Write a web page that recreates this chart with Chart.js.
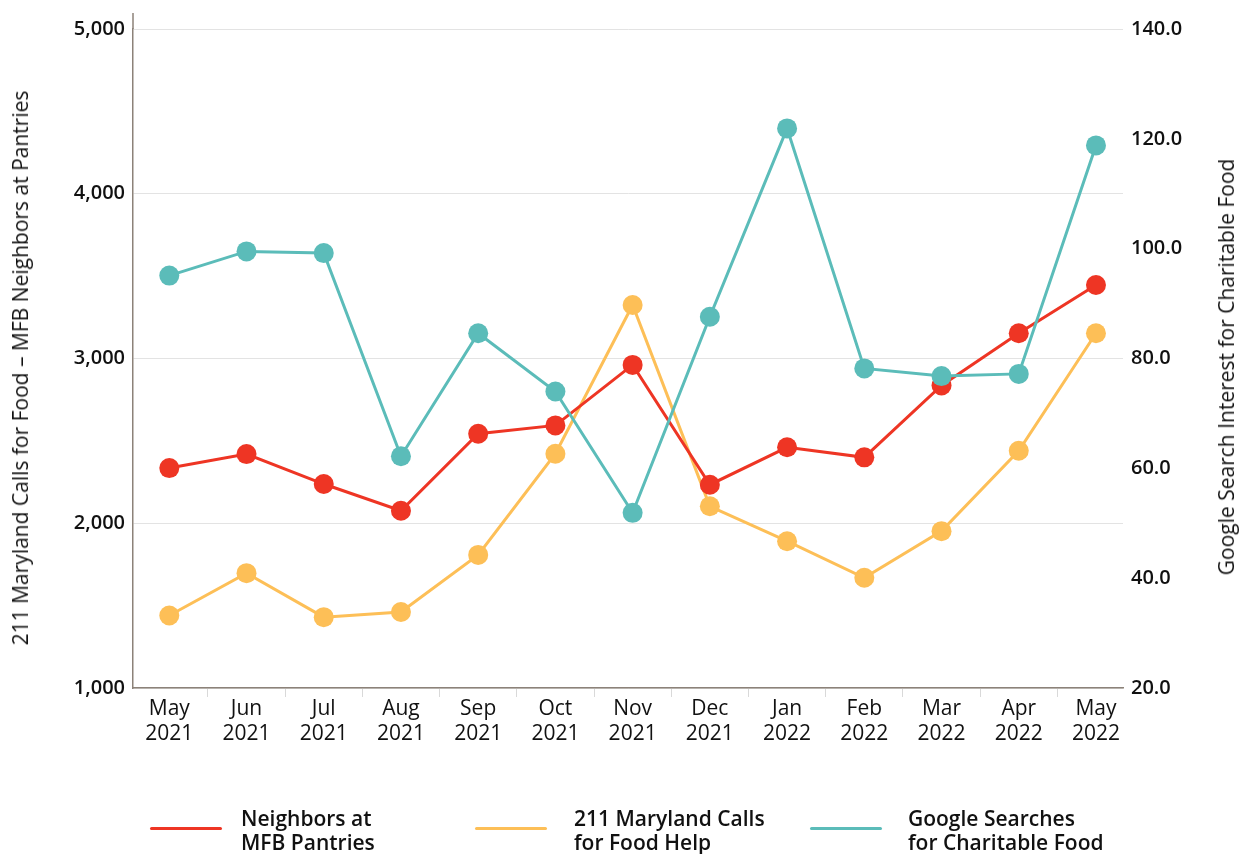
<!DOCTYPE html>
<html>
<head>
<meta charset="utf-8">
<script src="https://cdn.jsdelivr.net/npm/chart.js@4.4.0/dist/chart.umd.min.js"></script>
<style>
    html, body { margin: 0; padding: 0; background: #ffffff; }
    #wrap { position: relative; width: 1245px; height: 854px; overflow: hidden; }
    #legend { position: absolute; left: 0; top: 806px; width: 1245px; height: 60px;
              font-family: 'Open Sans', sans-serif; font-weight: 600; font-size: 21px;
              line-height: 24px; color: #111111; }
    .item { position: absolute; top: 0; }
    .swatch { position: absolute; top: 21px; left: 0; width: 72px; height: 3px; border-radius: 2px; }
    .txt { position: absolute; top: 0; white-space: nowrap; }
    .axisTitle { position: absolute; white-space: nowrap;
                 font-family: 'Open Sans', sans-serif; font-size: 21px; color: #111111;
                 transform: translate(-50%, -50%) rotate(-90deg); }
    #leftTitle { left: 20px; top: 368px; }
    #rightTitle { left: 1226px; top: 367px; }
</style>
</head>
<body>
<div id="wrap">
    <canvas id="trendChart" width="1245" height="854"></canvas>
    <div id="leftTitle" class="axisTitle"></div>
    <div id="rightTitle" class="axisTitle"></div>
    <div id="legend"></div>
</div>
<script>
// Months shown on the x axis (two lines each)
const months = [
    ['May', '2021'], ['Jun', '2021'], ['Jul', '2021'], ['Aug', '2021'],
    ['Sep', '2021'], ['Oct', '2021'], ['Nov', '2021'], ['Dec', '2021'],
    ['Jan', '2022'], ['Feb', '2022'], ['Mar', '2022'], ['Apr', '2022'],
    ['May', '2022']
];

// Left axis series
const neighborsAtPantries = [2335, 2420, 2238, 2076, 2543, 2594, 2961, 2234, 2461, 2400, 2836, 3153, 3446];
const marylandCalls = [1440, 1697, 1430, 1461, 1808, 2422, 3325, 2103, 1891, 1669, 1952, 2440, 3153];

// Right axis series
const googleSearches = [95.1, 99.5, 99.2, 62.2, 84.6, 74.0, 51.9, 87.6, 121.9, 78.2, 76.8, 77.2, 118.8];

const seriesNames = [
    ['Neighbors at', 'MFB Pantries'],
    ['211 Maryland Calls', 'for Food Help'],
    ['Google Searches', 'for Charitable Food']
];

const leftTitle = '211 Maryland Calls for Food \u2013 MFB Neighbors at Pantries';
const rightTitle = 'Google Search Interest for Charitable Food';

const RED = '#ee3524';
const YELLOW = '#fdbf57';
const TEAL = '#5bbcb9';
const AXIS_LINE = '#8c8279';
const FONT = "'Open Sans', sans-serif";

function lineSet(label, data, color, axis, order) {
    return {
        label: label.join(' '),
        data: data,
        yAxisID: axis,
        order: order,
        borderColor: color,
        backgroundColor: color,
        borderWidth: 3,
        pointRadius: 10,
        pointHoverRadius: 10,
        pointBorderWidth: 0,
        pointBackgroundColor: color,
        tension: 0
    };
}

// left axis line runs a little above the top gridline
const axisStub = {
    id: 'axisStub',
    afterDraw(chart) {
        const y = chart.scales.y;
        const c = chart.ctx;
        c.save();
        c.strokeStyle = AXIS_LINE;
        c.lineWidth = 1.5;
        c.beginPath();
        c.moveTo(y.right, y.top - 16);
        c.lineTo(y.right, y.top);
        c.stroke();
        c.restore();
    }
};

const ctx = document.getElementById('trendChart').getContext('2d');

const chart = new Chart(ctx, {
    type: 'line',
    data: {
        labels: months,
        datasets: [
            lineSet(seriesNames[0], neighborsAtPantries, RED, 'y', 1),
            lineSet(seriesNames[1], marylandCalls, YELLOW, 'y', 2),
            lineSet(seriesNames[2], googleSearches, TEAL, 'y2', 0)
        ]
    },
    plugins: [axisStub],
    options: {
        responsive: false,
        animation: false,
        layout: { padding: { top: 29, bottom: 88, left: 0, right: 0 } },
        plugins: {
            legend: { display: false },
            tooltip: { enabled: false }
        },
        scales: {
            x: {
                offset: true,
                grid: {
                    offset: true,
                    drawOnChartArea: false,
                    drawTicks: true,
                    tickLength: 9,
                    color: '#d9d9d9'
                },
                border: { display: true, color: AXIS_LINE, width: 1.5 },
                ticks: {
                    padding: -1,
                    maxRotation: 0,
                    autoSkip: false,
                    color: '#111111',
                    font: { family: FONT, size: 21, lineHeight: 1.2 }
                },
                // uneven side margins, as in the original layout
                afterBuildTicks: (scale) => {
                    scale._startValue = -0.47;
                    scale._valueRange = months.length - 1 + 0.47 + 0.35;
                },
                afterFit: (scale) => { scale.height = 78; }
            },
            y: {
                position: 'left',
                min: 1000,
                max: 5000,
                grid: { color: '#e3e3e3', drawTicks: false, lineWidth: 1 },
                border: { display: true, color: AXIS_LINE, width: 1.5 },
                ticks: {
                    stepSize: 1000,
                    padding: 8,
                    color: '#111111',
                    font: { family: FONT, size: 20, weight: '600' },
                    callback: (v) => v.toLocaleString('en-US')
                },
                afterFit: (scale) => { scale.width = 133; }
            },
            y2: {
                position: 'right',
                min: 20,
                max: 140,
                grid: { display: false, drawOnChartArea: false },
                border: { display: false },
                ticks: {
                    stepSize: 20,
                    padding: 0,
                    color: '#111111',
                    font: { family: FONT, size: 20, weight: '600' },
                    callback: (v) => Number(v).toFixed(1)
                },
                afterFit: (scale) => { scale.width = 122; }
            }
        }
    }
});

document.getElementById('leftTitle').textContent = leftTitle;
document.getElementById('rightTitle').textContent = rightTitle;

// HTML legend with two-line labels
const legendPos = [
    { left: 150, text: 91 },
    { left: 475, text: 99 },
    { left: 810, text: 98 }
];
const legendEl = document.getElementById('legend');
chart.data.datasets.forEach((ds, i) => {
    const item = document.createElement('div');
    item.className = 'item';
    item.style.left = legendPos[i].left + 'px';
    const sw = document.createElement('div');
    sw.className = 'swatch';
    sw.style.background = ds.borderColor;
    const txt = document.createElement('div');
    txt.className = 'txt';
    txt.style.left = legendPos[i].text + 'px';
    txt.innerHTML = seriesNames[i].join('<br>');
    item.appendChild(sw);
    item.appendChild(txt);
    legendEl.appendChild(item);
});
</script>
</body>
</html>
